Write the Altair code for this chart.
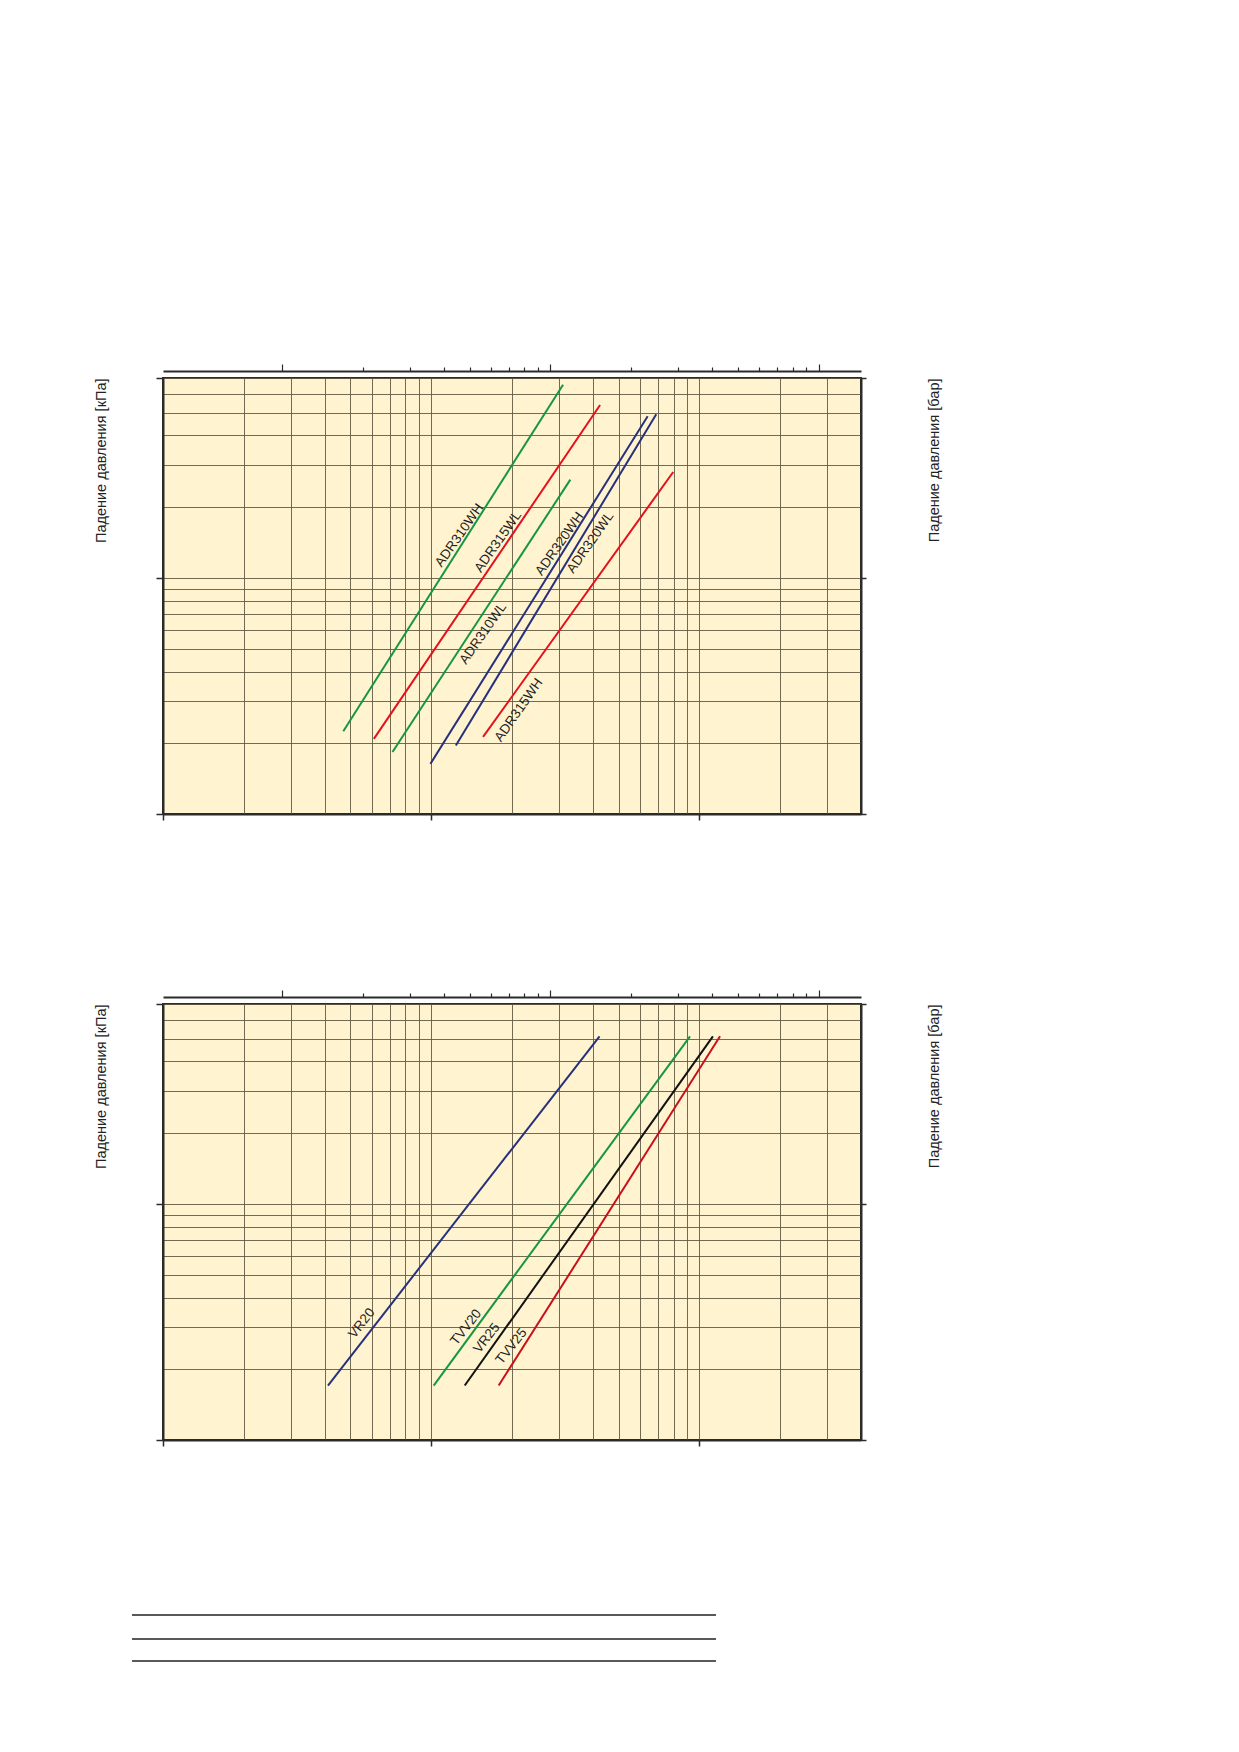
import altair as alt
import pandas as pd

FONT = "Liberation Sans"
INK = "#2b2b2b"
GRID = "#625a44"
PAPER = "#fff4cf"

# axis limits: flow in l/s (bottom) and m3/h (top), pressure drop in kPa (left) and bar (right)
flow_domain = [0.01, 4]
flow_m3h_domain = [0.036, 14.4]
dp_domain = [1, 70]
dp_bar_domain = [0.01, 0.7]

flow_grid = [0.01, 0.02, 0.03, 0.04, 0.05, 0.06, 0.07, 0.08, 0.09,
             0.1, 0.2, 0.3, 0.4, 0.5, 0.6, 0.7, 0.8, 0.9, 1, 2, 3, 4]
flow_ticks = [0.01, 0.1, 1]
flow_m3h_ticks = [0.1, 0.2, 0.3, 0.4, 0.5, 0.6, 0.7, 0.8, 0.9,
                  1, 2, 3, 4, 5, 6, 7, 8, 9, 10]
flow_m3h_major = [0.1, 1, 10]
dp_grid = [1, 2, 3, 4, 5, 6, 7, 8, 9, 10, 20, 30, 40, 50, 60, 70]
dp_ticks = [1, 10, 70]
dp_bar_ticks = [0.01, 0.1, 0.7]

# upper panel: ADR valves
adr_names = ["ADR310WH", "ADR315WL", "ADR310WL", "ADR320WH", "ADR320WL", "ADR315WH"]
adr_colors = ["#16963f", "#e2111d", "#16963f", "#27307c", "#27307c", "#e2111d"]
adr_flow_start = [0.047, 0.0611, 0.0717, 0.0993, 0.1235, 0.156]
adr_flow_end = [0.31, 0.426, 0.33, 0.641, 0.69, 0.798]
adr_dp_start = [2.24, 2.08, 1.83, 1.63, 1.95, 2.12]
adr_dp_end = [65.6, 53.8, 26.0, 48.2, 49.2, 28.0]
adr_label_flow = [0.1273, 0.1775, 0.156, 0.301, 0.392, 0.212]
adr_label_dp = [15.1, 14.2, 5.8, 13.9, 14.1, 2.75]

# lower panel: VR / TVV valves
valve_names = ["VR20", "TVV20", "VR25", "TVV25"]
valve_colors = ["#27307c", "#16963f", "#111111", "#c8101d"]
valve_flow_start = [0.0412, 0.1021, 0.1333, 0.1784]
valve_flow_end = [0.424, 0.922, 1.122, 1.193]
valve_dp_start = [1.70, 1.70, 1.70, 1.70]
valve_dp_end = [51.1, 51.1, 51.1, 51.1]
valve_label_flow = [0.0551, 0.1349, 0.161, 0.199]
valve_label_dp = [3.12, 3.0, 2.70, 2.49]


def member_test(values):
    """Vega expression that is true for tick values listed in `values`."""
    return "indexof(%s, datum.value) >= 0" % str(list(values))


bottom_axis = alt.Axis(
    values=flow_grid, labels=False, title=None, grid=True,
    gridColor=GRID, gridWidth=0.9,
    tickOpacity={"condition": {"test": member_test(flow_ticks), "value": 1}, "value": 0},
    tickSize=6, tickColor=INK, tickWidth=1.5,
    domainColor=INK, domainWidth=2,
)

left_axis = alt.Axis(
    values=dp_grid, labels=False, grid=True,
    gridColor=GRID, gridWidth=0.9,
    tickOpacity={"condition": {"test": member_test(dp_ticks), "value": 1}, "value": 0},
    tickSize=7, tickColor=INK, tickWidth=1.5,
    domainColor=INK, domainWidth=2,
    title="Падение давления [кПа]", titleAnchor="end", titleAngle=270,
    titlePadding=47, titleFont=FONT, titleFontSize=14.5,
    titleFontWeight="normal", titleColor="#222222",
)

top_axis = alt.Axis(
    orient="top", values=flow_m3h_ticks, labels=False, title=None, grid=False,
    offset=7,
    tickSize={"condition": {"test": member_test(flow_m3h_major), "value": 7}, "value": 4},
    tickColor=INK, tickWidth=1.2,
    domainColor=INK, domainWidth=2,
)

right_axis = alt.Axis(
    orient="right", values=dp_bar_ticks, labels=False, grid=False,
    tickSize=5, tickColor=INK, tickWidth=1.5,
    domainColor=INK, domainWidth=2,
    title="Падение давления [бар]", titleAnchor="end", titleAngle=270,
    titlePadding=75, titleFont=FONT, titleFontSize=14.5,
    titleFontWeight="normal", titleColor="#222222",
)


def make_panel(names, colors, flow_start, flow_end, dp_start, dp_end,
               label_flow, label_dp, label_angle, extra=()):
    lines = pd.DataFrame({
        "name": names * 2,
        "flow": flow_start + flow_end,
        "dp": dp_start + dp_end,
    })
    labels = pd.DataFrame({"name": names, "flow": label_flow, "dp": label_dp})

    x = alt.X("flow:Q", scale=alt.Scale(type="log", domain=flow_domain), axis=bottom_axis)
    y = alt.Y("dp:Q", scale=alt.Scale(type="log", domain=dp_domain), axis=left_axis)
    color = alt.Color("name:N", scale=alt.Scale(domain=names, range=colors), legend=None)

    curves = alt.Chart(lines).mark_line(strokeWidth=2).encode(
        x=x, y=y, color=color, detail="name:N"
    )
    text = alt.Chart(labels).mark_text(
        angle=label_angle, font=FONT, fontSize=13.5, color="#1f1f1f",
        align="center", baseline="middle",
    ).encode(x=x, y=y, text="name:N")

    # second pair of scales: m3/h on top, bar on the right
    twin = (
        alt.Chart(lines)
        .transform_calculate(flow_m3h="datum.flow * 3.6", dp_bar="datum.dp / 100")
        .mark_point(opacity=0)
        .encode(
            x=alt.X("flow_m3h:Q", scale=alt.Scale(type="log", domain=flow_m3h_domain), axis=top_axis),
            y=alt.Y("dp_bar:Q", scale=alt.Scale(type="log", domain=dp_bar_domain), axis=right_axis),
        )
    )

    return (
        alt.layer(alt.layer(curves, text, *extra), twin)
        .resolve_scale(x="independent", y="independent")
        .properties(width=698, height=436)
    )


one = pd.DataFrame({"k": [0]})
blank_rows = [
    alt.Chart(one).mark_rule(color="#222222", strokeWidth=1.6).encode(
        x=alt.value(-31), x2=alt.value(553), y=alt.value(dy)
    )
    for dy in (611, 635, 657)
]

upper = make_panel(adr_names, adr_colors, adr_flow_start, adr_flow_end,
                   adr_dp_start, adr_dp_end, adr_label_flow, adr_label_dp, 305)
lower = make_panel(valve_names, valve_colors, valve_flow_start, valve_flow_end,
                   valve_dp_start, valve_dp_end, valve_label_flow, valve_label_dp, 308,
                   extra=blank_rows)

chart = (
    alt.vconcat(upper, lower, spacing=166)
    .resolve_scale(color="independent")
    .properties(padding={"left": 84, "top": 354, "right": 5, "bottom": 5})
    .configure_view(fill=PAPER, stroke=INK, strokeWidth=2)
)

chart.save("out.html", embed_options={"renderer": "svg", "actions": False})
